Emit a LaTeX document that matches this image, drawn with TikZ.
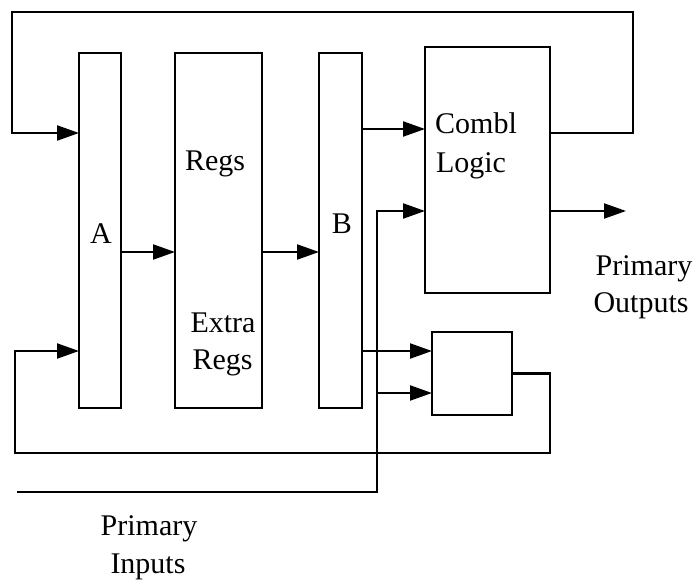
\documentclass[tikz,border=0pt]{standalone}
\usepackage{fontspec}
\setmainfont{Liberation Serif}
\usetikzlibrary{arrows.meta}
\begin{document}
\begin{tikzpicture}[x=1pt,y=-1pt,line width=2.2pt,
  blk/.style={draw,inner sep=0pt,outer sep=0pt,minimum width=#1},
  lbl/.style={anchor=base,inner sep=0pt,font=\fontsize{30}{36}\selectfont},
  arr/.style={-{Triangle[length=22pt,width=15pt]}}]
\useasboundingbox (0,0) rectangle (696,579);
% blocks
\node[blk=42pt,minimum height=355pt] (A) at (100,230.5) {};
\node[blk=87pt,minimum height=355pt] (R) at (218.5,230.5) {};
\node[blk=43pt,minimum height=355pt] (B) at (340.5,230.5) {};
\node[blk=125pt,minimum height=246pt] (C) at (487.5,170) {};
\node[blk=80pt,minimum height=83pt] (S) at (472,373.5) {};
% labels
\node[lbl] (lA) at (101,243) {A};
\node[lbl] (lB) at (342,233) {B};
\node[lbl] (lR1) at (215,170) {Regs};
\node[lbl] (lE) at (223,332) {Extra};
\node[lbl] (lR2) at (222.5,369) {Regs};
\node[lbl] (lC1) at (476,133) {Combl};
\node[lbl] (lC2) at (471,172) {Logic};
\node[lbl] (lPO1) at (644,275) {Primary};
\node[lbl] (lPO2) at (641,312) {Outputs};
\node[lbl] (lPI1) at (149,535) {Primary};
\node[lbl] (lPI2) at (148,573) {Inputs};
% helper coordinates
\coordinate (tr) at (633,12);
\coordinate (tl) at (12,12);
\coordinate (po) at (626,211);
\coordinate (pi) at (17,492);
\coordinate (piv) at (377,492);
\coordinate (pib) at (377,393);
\coordinate (sr) at (550,453);
\coordinate (bl) at (15,453);
% connectors
\draw[arr] ([yshift=37pt]C.east) -| (tr) -- (tl) |- ([yshift=97.5pt]A.west);
\draw[arr] ([yshift=-21.5pt]A.east) -- ([yshift=-21.5pt]R.west);
\draw[arr] ([yshift=-21.5pt]R.east) -- ([yshift=-21.5pt]B.west);
\draw[arr] ([yshift=101.5pt]B.east) -- ([yshift=41pt]C.west);
\draw[arr] ([yshift=-41pt]C.east) -- (po);
\draw[arr] (pi) -- (piv) |- ([yshift=-41pt]C.west);
\draw[arr] (pib) -- ([yshift=-19.5pt]S.west);
\draw[arr] ([yshift=-120.5pt]B.east) -- ([yshift=22.5pt]S.west);
\draw[arr] (S.east) -| (sr) -- (bl) |- ([yshift=-120.5pt]A.west);
\end{tikzpicture}
\end{document}
